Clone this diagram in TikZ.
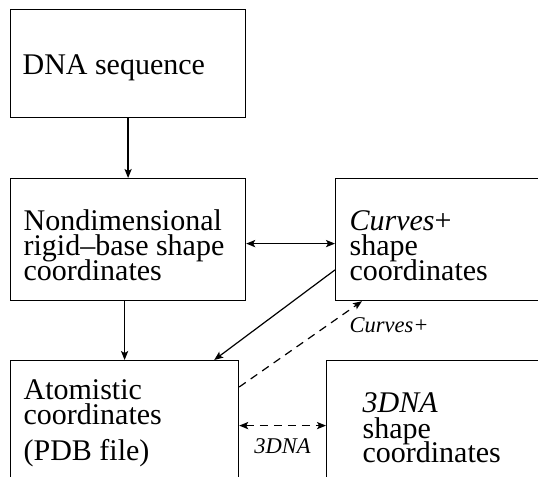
\documentclass[tikz,border=0pt]{standalone}
\usepackage{fontspec}
\setmainfont{Liberation Serif}
\usetikzlibrary{arrows.meta}
\newcommand\boxfont{\fontsize{15}{12.5}\selectfont\lineskiplimit=-10pt\relax}

\begin{document}
\begin{tikzpicture}[x=0.5pt,y=-0.5pt,line width=0.6pt,
  box/.style={draw,anchor=north west,inner sep=0pt},
  txt/.style={anchor=base west,inner sep=0pt,align=left,font=\boxfont},
  lbl/.style={inner sep=0pt,font=\fontsize{11.25}{13}\selectfont\itshape},
  arr/.style={-{Stealth[length=4.5pt,width=3.6pt,inset=1pt]}},
  darr/.style={{Stealth[length=4.5pt,width=3.6pt,inset=1pt]}-{Stealth[length=4.5pt,width=3.6pt,inset=1pt]}},
  dashpat/.style={dash pattern=on 4pt off 3pt}]
\useasboundingbox (0,0) rectangle (538,477);
\clip (0,0) rectangle (538,477);

\node[box,minimum width=117.5pt,minimum height=54pt] (seq) at (10,9) {};
\node[box,minimum width=117.5pt,minimum height=61pt] (rb) at (10,178) {};
\node[box,minimum width=112.5pt,minimum height=61pt] (cur) at (335,178) {};
\node[box,minimum width=114pt,minimum height=65pt] (atom) at (10,360) {};
\node[box,minimum width=117pt,minimum height=65pt] (dna3) at (326,360) {};

\node[txt] (seqtxt) at (22,74) {DNA sequence};
\node[txt] (rbtxt) at (23,280) {Nondimensional\\rigid--base shape\\coordinates};
\node[txt] (curtxt) at (349,280) {\textit{Curves}+\\shape\\coordinates};
\node[txt] (atomtxt) at (23,460) {Atomistic\\[0.5pt]coordinates\\[5pt](PDB file)};
\node[txt] (dnatxt) at (362,463) {\textit{3DNA}\\shape\\coordinates};

\draw[arr] (seq) -- (rb);
\draw[darr] ([yshift=-2pt]rb.east) -- ([yshift=-2pt]cur.west);
\draw[arr] (atom.north |- rb.south) -- (atom.north);
\draw[arr] (cur.195) -- ([xshift=-12.5pt]atom.north east);
\draw[arr,dashpat] ([yshift=-13.5pt]atom.north east) -- ([xshift=13.5pt]cur.south west);
\node[lbl,anchor=base west] (curlbl) at (349,333) {Curves+};
\draw[darr,dashpat] (atom.east) -- (dna3.west) node[lbl,midway,below=6pt] (dnalbl) {3DNA};
\end{tikzpicture}
\end{document}
